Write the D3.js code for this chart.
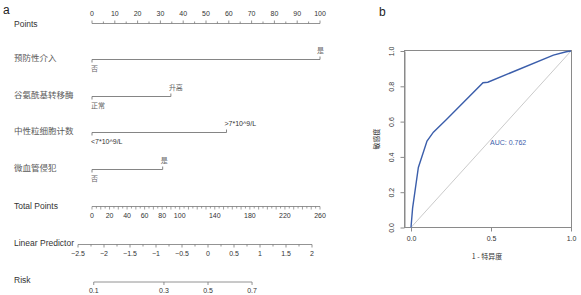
<!DOCTYPE html>
<html>
<head>
<meta charset="utf-8">
<script src="https://cdn.jsdelivr.net/npm/d3@7"></script>
<style>
  body { margin: 0; background: #fff; }
  svg { display: block; }
  text { font-family: "Liberation Sans", Arial, sans-serif; }
  .cn { font-family: "Noto Sans CJK SC", sans-serif; }
</style>
</head>
<body>
<svg id="chart" width="581" height="295"></svg>
<script>
// nomogram data
const pointTicks = d3.range(0, 101, 10);
const variables = ["预防性介入", "谷氨酰基转移酶", "中性粒细胞计数", "微血管侵犯"];
const levelLow = ["否", "正常", "<7*10^9/L", "否"];
const levelHigh = ["是", "升高", ">7*10^9/L", "是"];
const levelPoints = [100, 34.6, 59, 31];
const totalTicks = [0, 20, 40, 60, 80, 100, 140, 180, 220, 260];
const lpTicks = [-2.5, -2, -1.5, -1, -0.5, 0, 0.5, 1, 1.5, 2];
const riskTicks = [0.1, 0.3, 0.5, 0.7];

// ROC data
const rocFpr = [0, 0.01, 0.046, 0.10, 0.14, 0.22, 0.45, 0.48, 0.89, 0.97, 1];
const rocTpr = [0, 0.11, 0.34, 0.49, 0.54, 0.61, 0.82, 0.823, 0.977, 0.996, 1];
const auc = 0.762;
const rocYTicks = [0, 0.2, 0.4, 0.6, 0.8, 1.0];
const rocXTicks = [0, 0.5, 1.0];

const svg = d3.select('#chart');
const grey = '#777';
const txt = '#333';

// ---------- panel a ----------
svg.append('text').attr('x', 3).attr('y', 14).attr('font-size', 12).attr('fill', '#222').text('a');

const xPts = d3.scaleLinear().domain([0, 100]).range([92, 320]);
const xTot = d3.scaleLinear().domain([0, 260]).range([92, 320]);
const xLp = d3.scaleLinear().domain([-2.5, 2]).range([78, 312]);
const logit = p => Math.log(p / (1 - p));

const rowLabel = (y, s, cls) => svg.append('text')
  .attr('class', cls || null)
  .attr('x', 14).attr('y', y).attr('dy', '0.35em')
  .attr('font-size', cls ? 8.5 : 8.5)
  .attr('fill', cls ? '#5a5a5a' : txt)
  .text(s);

// Points axis
rowLabel(24, 'Points');
const gp = svg.append('g').attr('transform', 'translate(0,23.5)');
gp.append('line').attr('x1', xPts(0)).attr('x2', xPts(100)).attr('stroke', grey).attr('stroke-width', 0.8);
gp.selectAll('.mt').data(d3.range(0, 101, 5)).join('line')
  .attr('x1', d => xPts(d)).attr('x2', d => xPts(d))
  .attr('y1', 0).attr('y2', d => d % 10 === 0 ? -3 : -2)
  .attr('stroke', grey).attr('stroke-width', 0.8);
gp.selectAll('text').data(pointTicks).join('text')
  .attr('x', d => xPts(d)).attr('y', -9.5).attr('dy', '0.35em')
  .attr('text-anchor', 'middle').attr('font-size', 7).attr('fill', txt)
  .text(d => d);

// variable rows
const rowY = [59.5, 96.5, 132.5, 169.5];
variables.forEach((v, i) => {
  const y = rowY[i];
  rowLabel(y - 1, v, 'cn');
  const g = svg.append('g').attr('transform', `translate(0,${y})`);
  const x1 = xPts(0), x2 = xPts(levelPoints[i]);
  g.append('line').attr('x1', x1).attr('x2', x2).attr('stroke', grey).attr('stroke-width', 0.9);
  g.append('line').attr('x1', x1).attr('x2', x1).attr('y1', 0).attr('y2', 3).attr('stroke', grey).attr('stroke-width', 0.9);
  g.append('line').attr('x1', x2).attr('x2', x2).attr('y1', 0).attr('y2', -3).attr('stroke', grey).attr('stroke-width', 0.9);
  const cnLow = /[\u4e00-\u9fff]/.test(levelLow[i]);
  const cnHigh = /[\u4e00-\u9fff]/.test(levelHigh[i]);
  g.append('text').attr('class', cnLow ? 'cn' : null)
    .attr('x', x1 - 1).attr('y', 9).attr('dy', '0.35em')
    .attr('font-size', 7).attr('fill', cnLow ? '#666' : txt)
    .text(levelLow[i]);
  g.append('text').attr('class', cnHigh ? 'cn' : null)
    .attr('x', levelPoints[i] >= 100 ? x2 - 3 : x2 - 2).attr('y', -9).attr('dy', '0.35em')
    .attr('font-size', 7).attr('fill', cnHigh ? '#666' : txt)
    .text(levelHigh[i]);
});

// Total Points
rowLabel(206.5, 'Total Points');
const gt = svg.append('g').attr('transform', 'translate(0,206.5)');
gt.append('line').attr('x1', xTot(0)).attr('x2', xTot(260)).attr('stroke', grey).attr('stroke-width', 0.8);
gt.selectAll('.mt').data(d3.range(0, 261, 5)).join('line')
  .attr('x1', d => xTot(d)).attr('x2', d => xTot(d))
  .attr('y1', 0).attr('y2', d => d % 10 === 0 ? 3 : 2)
  .attr('stroke', grey).attr('stroke-width', 0.7);
gt.selectAll('text').data(totalTicks).join('text')
  .attr('x', d => xTot(d)).attr('y', 9).attr('dy', '0.35em')
  .attr('text-anchor', 'middle').attr('font-size', 7).attr('fill', txt)
  .text(d => d);

// Linear Predictor
rowLabel(243.5, 'Linear Predictor');
const gl = svg.append('g').attr('transform', 'translate(0,244.5)');
gl.append('line').attr('x1', xLp(-2.5)).attr('x2', xLp(2)).attr('stroke', grey).attr('stroke-width', 0.8);
gl.selectAll('.mt').data(d3.range(-2.5, 2.01, 0.25)).join('line')
  .attr('x1', d => xLp(d)).attr('x2', d => xLp(d))
  .attr('y1', 0).attr('y2', (d, i) => i % 2 === 0 ? 3 : 2)
  .attr('stroke', grey).attr('stroke-width', 0.8);
gl.selectAll('text').data(lpTicks).join('text')
  .attr('x', d => xLp(d)).attr('y', 9).attr('dy', '0.35em')
  .attr('text-anchor', 'middle').attr('font-size', 7).attr('fill', txt)
  .text(d => d < 0 ? '\u2212' + Math.abs(d) : d);

// Risk
rowLabel(280.5, 'Risk');
const gr = svg.append('g').attr('transform', 'translate(0,282)');
gr.append('line')
  .attr('x1', xLp(logit(riskTicks[0]))).attr('x2', xLp(logit(riskTicks[riskTicks.length - 1])))
  .attr('stroke', grey).attr('stroke-width', 0.8);
gr.selectAll('.mt').data(riskTicks).join('line')
  .attr('x1', d => xLp(logit(d))).attr('x2', d => xLp(logit(d)))
  .attr('y1', 0).attr('y2', 3).attr('stroke', grey).attr('stroke-width', 0.8);
gr.selectAll('text').data(riskTicks).join('text')
  .attr('x', d => xLp(logit(d))).attr('y', 9).attr('dy', '0.35em')
  .attr('text-anchor', 'middle').attr('font-size', 7).attr('fill', txt)
  .text(d => d);

// ---------- panel b ----------
svg.append('text').attr('x', 379).attr('y', 16).attr('font-size', 12).attr('fill', '#222').text('b');

const xR = d3.scaleLinear().domain([0, 1]).range([411, 571]);
const yR = d3.scaleLinear().domain([0, 1]).range([227.5, 51]);
const axCol = '#8a8a8a';

svg.append('rect').attr('x', 404.5).attr('y', 50.5).attr('width', 167).attr('height', 177)
  .attr('fill', 'none').attr('stroke', axCol).attr('stroke-width', 1);

const gy = svg.append('g').attr('transform', 'translate(404.5,0)')
  .call(d3.axisLeft(yR).tickValues(rocYTicks).tickFormat(d3.format('.1f')).tickSize(4).tickSizeOuter(0));
gy.select('.domain').attr('stroke', axCol);
gy.selectAll('.tick line').attr('stroke', axCol);
gy.selectAll('.tick text')
  .attr('transform', 'rotate(-90)').attr('x', 0).attr('y', -11).attr('dy', 0)
  .attr('text-anchor', 'middle').attr('font-size', 7).attr('fill', txt)
  .attr('font-family', '"Liberation Sans", Arial, sans-serif');

const gx = svg.append('g').attr('transform', 'translate(0,227.5)')
  .call(d3.axisBottom(xR).tickValues(rocXTicks).tickFormat(d3.format('.1f')).tickSize(4).tickSizeOuter(0));
gx.select('.domain').remove();
gx.selectAll('.tick line').attr('stroke', axCol);
gx.selectAll('.tick text').attr('y', 9).attr('font-size', 7).attr('fill', txt)
  .attr('font-family', '"Liberation Sans", Arial, sans-serif');

svg.append('text').attr('class', 'cn').attr('x', 487).attr('y', 257).attr('dy', '0.35em')
  .attr('text-anchor', 'middle').attr('font-size', 7).attr('fill', txt).text('1 - 特异度');
svg.append('text').attr('class', 'cn').attr('transform', 'translate(377,139) rotate(-90)')
  .attr('dy', '0.35em').attr('text-anchor', 'middle').attr('font-size', 7).attr('fill', txt).text('敏感度');

// diagonal
svg.append('line').attr('x1', xR(0)).attr('y1', yR(0)).attr('x2', xR(1)).attr('y2', yR(1))
  .attr('stroke', '#c4c4c4').attr('stroke-width', 0.9);

// ROC curve
const roc = rocFpr.map((f, i) => [f, rocTpr[i]]);
svg.append('path').datum(roc)
  .attr('d', d3.line().x(d => xR(d[0])).y(d => yR(d[1])))
  .attr('fill', 'none').attr('stroke', '#3b5eab').attr('stroke-width', 1.4);

svg.append('text').attr('x', 490).attr('y', 143).attr('dy', '0.35em')
  .attr('font-size', 7).attr('fill', '#3b5eab').text('AUC: ' + auc);
</script>
</body>
</html>
